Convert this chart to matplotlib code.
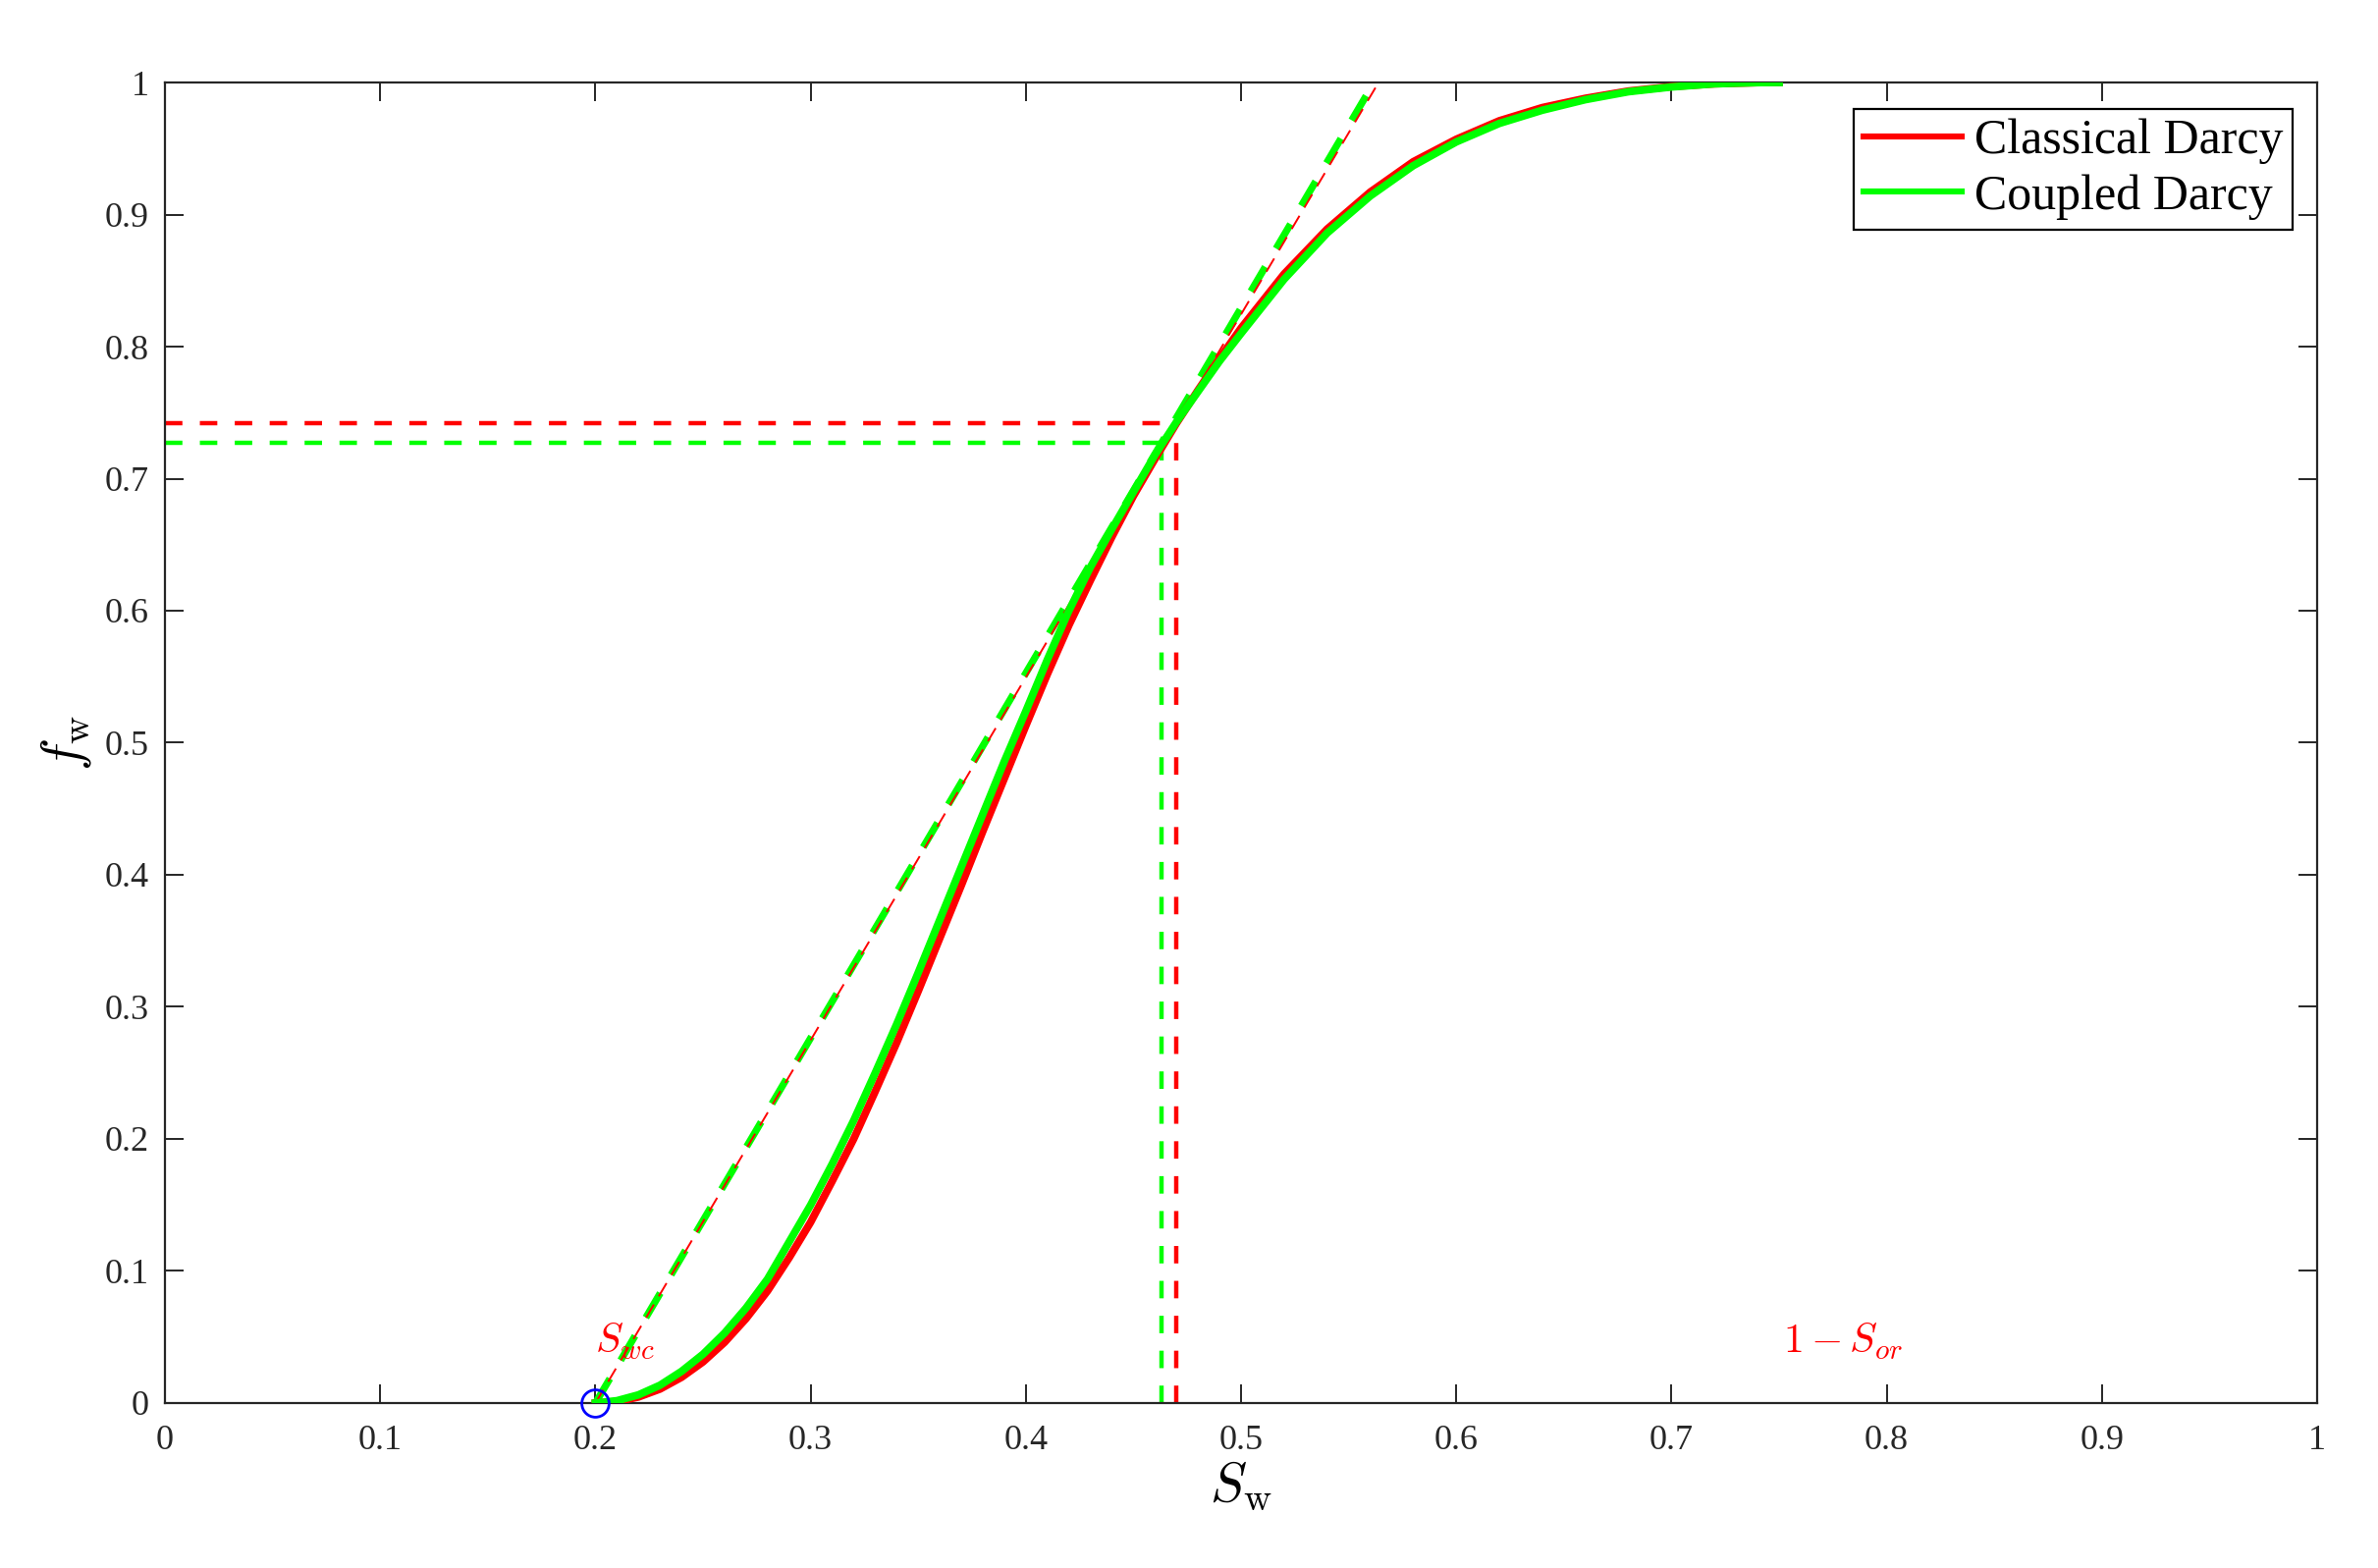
import numpy as np
import matplotlib
matplotlib.use('Agg')
import matplotlib.pyplot as plt
from matplotlib.lines import Line2D

# water saturation samples
sw = [0.20, 0.21, 0.22, 0.23, 0.24, 0.25, 0.26, 0.27, 0.28, 0.29, 0.30, 0.31,
      0.32, 0.33, 0.34, 0.35, 0.36, 0.37, 0.38, 0.39, 0.40, 0.41, 0.42, 0.43,
      0.44, 0.45, 0.46, 0.47, 0.48, 0.49, 0.50, 0.52, 0.54, 0.56, 0.58, 0.60,
      0.62, 0.64, 0.66, 0.68, 0.70, 0.72, 0.74, 0.75]

# fractional flow, classical Darcy (red)
fw_classical = [0.0, 0.0011, 0.0046, 0.0106, 0.0195, 0.0312, 0.046, 0.064, 0.085,
                0.110, 0.137, 0.168, 0.200, 0.236, 0.273, 0.312, 0.352, 0.392,
                0.433, 0.473, 0.513, 0.552, 0.589, 0.623, 0.656, 0.687, 0.715,
                0.742, 0.767, 0.791, 0.814, 0.855, 0.889, 0.917, 0.940, 0.957,
                0.971, 0.981, 0.988, 0.9935, 0.9969, 0.999, 0.9999, 1.0]

# fractional flow, coupled Darcy (green)
fw_coupled = [0.0, 0.0018, 0.0062, 0.0135, 0.024, 0.037, 0.053, 0.072, 0.094,
              0.122, 0.150, 0.181, 0.214, 0.250, 0.287, 0.326, 0.366, 0.406,
              0.446, 0.486, 0.524, 0.563, 0.600, 0.633, 0.662, 0.690, 0.718,
              0.743, 0.766, 0.789, 0.810, 0.851, 0.886, 0.914, 0.937, 0.955,
              0.969, 0.979, 0.987, 0.993, 0.9966, 0.999, 0.9999, 1.0]

swc = 0.2
# shock front points (tangent from Swc), classical then coupled
sw_front = [0.470, 0.463]
fw_front = [0.742, 0.727]

tick_vals = [0, 0.1, 0.2, 0.3, 0.4, 0.5, 0.6, 0.7, 0.8, 0.9, 1]
tick_labels = ['0', '0.1', '0.2', '0.3', '0.4', '0.5', '0.6', '0.7', '0.8', '0.9', '1']

plt.rcParams['mathtext.fontset'] = 'cm'
plt.rcParams['font.family'] = ['Liberation Serif', 'DejaVu Serif']

fig = plt.figure(figsize=(12.11, 7.985), dpi=200)
ax = fig.add_axes([0.0694, 0.1052, 0.905, 0.8422])

red = (1, 0, 0)
green = (0, 1, 0)

# tangent lines from (Swc, 0) through the front points, up to fw = 1
sw_top_r = swc + (sw_front[0] - swc) / fw_front[0]
sw_top_g = swc + (sw_front[1] - swc) / fw_front[1]
ax.plot([swc, sw_top_g], [0, 1], color=green, lw=2.6, ls=(0, (4, 3)), zorder=3)
ax.plot([swc, sw_top_r], [0, 1], color=red, lw=0.7, ls=(0, (8, 5)), zorder=3)

# front guides
ax.plot([0, sw_front[0]], [fw_front[0], fw_front[0]], color=red, lw=1.6, ls=(0, (4, 4)))
ax.plot([sw_front[0], sw_front[0]], [0, fw_front[0]], color=red, lw=1.6, ls=(0, (4, 4)))
ax.plot([0, sw_front[1]], [fw_front[1], fw_front[1]], color=green, lw=1.6, ls=(0, (4, 4)))
ax.plot([sw_front[1], sw_front[1]], [0, fw_front[1]], color=green, lw=1.6, ls=(0, (4, 4)))

ax.plot(sw, fw_classical, color=red, lw=2.8, zorder=4, solid_joinstyle='round')
ax.plot(sw, fw_coupled, color=green, lw=2.8, zorder=5, solid_joinstyle='round')

ax.plot([swc], [0], 'o', mfc='none', mec=(0, 0, 1), ms=10, mew=1.0, zorder=6, clip_on=False)

ax.text(0.2, 0.038, r'$S_{wc}$', color=red, fontsize=15, ha='left', va='baseline')
ax.text(0.752, 0.038, r'$1-S_{or}$', color=red, fontsize=15, ha='left', va='baseline')

ax.set_xlim(0, 1)
ax.set_ylim(0, 1)
ax.set_xticks(tick_vals)
ax.set_xticklabels(tick_labels)
ax.set_yticks(tick_vals)
ax.set_yticklabels(tick_labels)
ax.tick_params(direction='in', length=7, width=0.7, top=True, right=True,
               labelsize=13, colors=(0.15, 0.15, 0.15))
ax.tick_params(axis='x', pad=8)
ax.tick_params(axis='y', pad=6)
for sp in ax.spines.values():
    sp.set_linewidth(0.8)
    sp.set_color((0.15, 0.15, 0.15))

ax.set_xlabel(r'$S_{\rm w}$', fontsize=20, labelpad=1)
ax.set_ylabel(r'$f_{\rm w}$', fontsize=20, labelpad=4)

handles = [Line2D([], [], color=red, lw=2.2), Line2D([], [], color=green, lw=2.2)]
leg = ax.legend(handles, ['Classical Darcy', 'Coupled Darcy'], loc='upper right',
                bbox_to_anchor=(0.9886, 0.98), borderaxespad=0, fontsize=18,
                fancybox=False, framealpha=1, edgecolor='black',
                handlelength=2.0, handletextpad=0.25, labelspacing=0.2,
                borderpad=0.2)
leg.get_frame().set_linewidth(0.8)

fig.savefig('out.png', dpi=200)
